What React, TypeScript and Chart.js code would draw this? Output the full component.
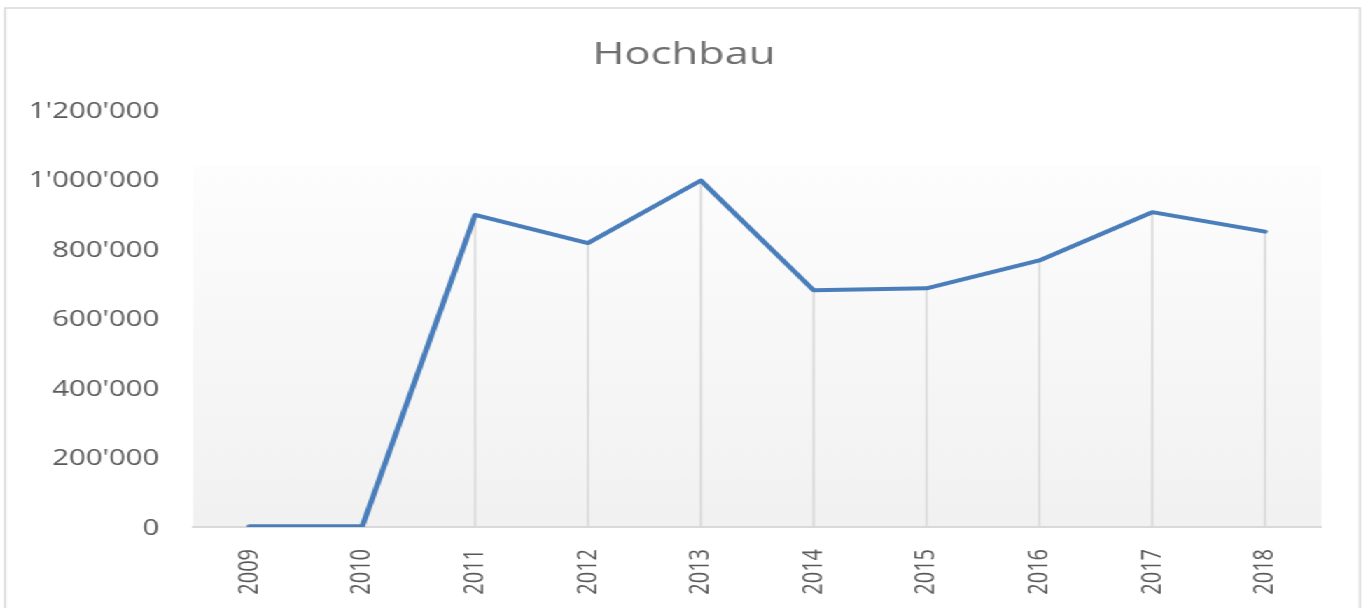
import React, { useEffect, useRef } from "react";
import { Chart, registerables } from "chart.js";

Chart.register(...registerables);

const categories = ["2009", "2010", "2011", "2012", "2013", "2014", "2015", "2016", "2017", "2018"];
const hochbauValues = [2000, 2000, 898000, 817000, 997000, 681000, 687000, 767000, 906000, 850000];
const yTickLabels = ["0", "200'000", "400'000", "600'000", "800'000", "1'000'000", "1'200'000"];
const chartTitle = "Hochbau";

const STRETCH = 1368 / 977;
const FONT = "'Open Sans', 'Liberation Sans', Arial, sans-serif";

const frameAndBackground = {
  id: "frameAndBackground",
  beforeDraw(chart: any) {
    const { ctx, chartArea } = chart;
    ctx.save();
    // outer frame
    ctx.strokeStyle = "#d9d9d9";
    ctx.lineWidth = 1.5;
    ctx.strokeRect(5 / STRETCH, 8, (1360 - 5) / STRETCH, 700);
    // plot area gradient
    const h = chartArea.bottom - chartArea.top;
    const top = chartArea.top + h * 0.132;
    const g = ctx.createLinearGradient(0, top, 0, chartArea.bottom);
    g.addColorStop(0, "#fdfdfd");
    g.addColorStop(1, "#f1f1f1");
    ctx.fillStyle = g;
    ctx.fillRect(chartArea.left, top, chartArea.right - chartArea.left, chartArea.bottom - top);
    ctx.restore();
  },
};

const dropLines = {
  id: "dropLines",
  beforeDatasetsDraw(chart: any) {
    const { ctx, chartArea } = chart;
    const meta = chart.getDatasetMeta(0);
    ctx.save();
    ctx.strokeStyle = "#d9d9d9";
    ctx.lineWidth = 1.6;
    ctx.beginPath();
    meta.data.forEach((pt: any) => {
      ctx.moveTo(pt.x, pt.y);
      ctx.lineTo(pt.x, chartArea.bottom);
    });
    ctx.stroke();
    ctx.restore();
  },
};

export default function App() {
  const canvasRef = useRef<HTMLCanvasElement>(null);

  useEffect(() => {
    if (!canvasRef.current) return;
    const chart = new Chart(canvasRef.current, {
      type: "line",
      data: {
        labels: categories,
        datasets: [
          {
            label: chartTitle,
            data: hochbauValues,
            borderColor: "#4a7ebb",
            backgroundColor: "#4a7ebb",
            borderWidth: 4,
            pointRadius: 0,
            pointHoverRadius: 0,
            tension: 0,
            borderJoinStyle: "round",
            borderCapStyle: "round",
            fill: false,
          },
        ],
      },
      options: {
        animation: false,
        responsive: true,
        maintainAspectRatio: false,
        layout: { padding: 0 },
        plugins: {
          legend: { display: false },
          tooltip: { enabled: false },
          title: {
            display: true,
            text: chartTitle,
            color: "#6f6f6f",
            font: { family: FONT, size: 31, weight: "normal" },
            padding: { top: 37, bottom: 35.8 },
          },
        },
        scales: {
          x: {
            type: "category",
            offset: true,
            grid: { display: false, drawTicks: false },
            border: { display: true, color: "#d9d9d9", width: 2 },
            ticks: {
              color: "#595959",
              font: { family: FONT, size: 20 },
              minRotation: 90,
              maxRotation: 90,
              padding: 22,
              autoSkip: false,
            },
            afterFit(scale: any) {
              scale.height = 81;
            },
          },
          y: {
            min: 0,
            max: 1200000,
            grid: { display: false, drawTicks: false },
            border: { display: false },
            ticks: {
              stepSize: 200000,
              color: "#595959",
              font: { family: FONT, size: 21 },
              padding: 24,
              labelOffset: 2,
              callback: (_v: any, i: number) => yTickLabels[i],
            },
            afterFit(scale: any) {
              scale.width = 193 / STRETCH;
            },
          },
          yRight: {
            position: "right",
            display: true,
            grid: { display: false, drawTicks: false },
            border: { display: false },
            ticks: { display: false },
            afterFit(scale: any) {
              scale.width = 977 - 1321.5 / STRETCH;
            },
          },
        },
      },
      plugins: [frameAndBackground, dropLines],
    });
    return () => chart.destroy();
  }, []);

  return (
    <div
      style={{
        position: "fixed",
        left: 0,
        top: 0,
        width: "977px",
        height: "608px",
        transform: `scaleX(${STRETCH})`,
        transformOrigin: "left top",
        background: "#ffffff",
      }}
    >
      <canvas ref={canvasRef} />
    </div>
  );
}
